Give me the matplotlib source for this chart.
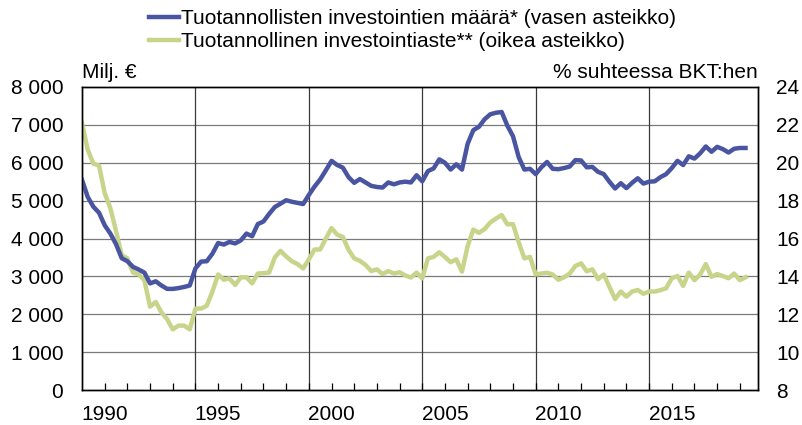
import matplotlib
matplotlib.use("Agg")
import matplotlib.pyplot as plt
from matplotlib.ticker import FuncFormatter

plt.rcParams['font.family'] = ['Liberation Sans', 'DejaVu Sans']

# quarterly data 1989Q1 - 2018Q2
start_year = 1989
investment_meur = [
    5550, 5100, 4840, 4680, 4350, 4130, 3850, 3480, 3400, 3250,
    3180, 3100, 2815, 2870, 2760, 2670, 2670, 2690, 2720, 2760,
    3210, 3390, 3400, 3600, 3880, 3840, 3910, 3870, 3950, 4130,
    4060, 4380, 4450, 4650, 4830, 4920, 5010, 4970, 4940, 4910,
    5150, 5370, 5560, 5800, 6050, 5940, 5870, 5620, 5470, 5570,
    5480, 5390, 5360, 5345, 5480, 5430, 5480, 5500, 5480, 5670,
    5510, 5780, 5850, 6090, 6000, 5820, 5960, 5820, 6500, 6860,
    6950, 7150, 7280, 7320, 7340, 6980, 6700, 6150, 5820, 5840,
    5700, 5880, 6020, 5840, 5830, 5860, 5900, 6070, 6060, 5880,
    5890, 5760, 5700, 5500, 5320, 5460, 5330, 5470, 5590, 5450,
    5500, 5510, 5620, 5700, 5860, 6050, 5940, 6170, 6110, 6250,
    6430, 6290, 6420, 6360, 6270, 6370, 6390, 6390,
]
investment_rate = [
    22.1, 20.7, 19.95, 19.85, 18.4, 17.6, 16.4, 15.12, 14.95, 14.2,
    14.1, 13.8, 12.4, 12.65, 12.1, 11.75, 11.2, 11.4, 11.4, 11.2,
    12.3, 12.3, 12.45, 13.2, 14.1, 13.82, 13.89, 13.55, 13.95, 13.95,
    13.63, 14.15, 14.17, 14.2, 15.0, 15.35, 15.05, 14.8, 14.65, 14.42,
    14.9, 15.42, 15.42, 16.0, 16.55, 16.2, 16.08, 15.4, 14.95, 14.82,
    14.6, 14.28, 14.37, 14.12, 14.28, 14.15, 14.22, 14.05, 13.94, 14.2,
    13.9, 14.95, 15.03, 15.27, 15.02, 14.75, 14.9, 14.25, 15.6, 16.47,
    16.3, 16.5, 16.85, 17.05, 17.24, 16.75, 16.76, 15.8, 14.95, 15.03,
    14.1, 14.15, 14.19, 14.1, 13.82, 13.95, 14.15, 14.55, 14.69, 14.27,
    14.37, 13.85, 14.1, 13.45, 12.8, 13.2, 12.93, 13.2, 13.28, 13.08,
    13.2, 13.2, 13.27, 13.37, 13.9, 14.02, 13.5, 14.2, 13.8, 14.1,
    14.65, 13.98, 14.12, 14.02, 13.9, 14.15, 13.8, 13.95,
]
quarters = [start_year + 0.25 * i for i in range(len(investment_meur))]

label_years = [1990, 1995, 2000, 2005, 2010, 2015]
grid_years = [1994, 1999, 2004, 2009, 2014]
all_years = list(range(1990, 2019))
left_ticks = list(range(0, 8001, 1000))
right_ticks = list(range(8, 25, 2))

blue = '#4a55a2'
green = '#c8d48a'
fs = 15

fig = plt.figure(figsize=(8.03, 4.25), dpi=100)
ax = fig.add_axes([82 / 803, 1 - 390 / 425, 676 / 803, 303 / 425])
ax2 = ax.twinx()
ax.set_zorder(2)
ax2.set_zorder(1)
ax.patch.set_visible(False)

# grid on the lower axes so the lines sit on top of it
for yv in right_ticks[1:-1]:
    ax2.axhline(yv, color='#7a7a7a', lw=0.9, zorder=0)
for gx in grid_years:
    ax2.axvline(gx, color='#3a3a3a', lw=0.9, zorder=0)

l2, = ax2.plot(quarters, investment_rate, color=green, lw=3.2,
               solid_joinstyle='round',
               label='Tuotannollinen investointiaste** (oikea asteikko)')
l1, = ax.plot(quarters, investment_meur, color=blue, lw=3.2,
              solid_joinstyle='round',
              label='Tuotannollisten investointien määrä* (vasen asteikko)')

ax.set_xlim(1989, 2018.8)
ax.set_ylim(0, 8000)
ax2.set_ylim(8, 24)

ax.set_yticks(left_ticks)
ax.yaxis.set_major_formatter(FuncFormatter(lambda v, p: f'{int(v):,}'.replace(',', ' ')))
ax2.set_yticks(right_ticks)

ax.set_xticks(label_years)
ax.set_xticks(all_years, minor=True)
ax.tick_params(axis='x', which='both', direction='in', length=5, width=0.9,
               labelsize=fs, pad=11)
ax.tick_params(axis='y', length=0, labelsize=fs, pad=13.5)
ax2.tick_params(axis='y', length=0, labelsize=fs, pad=13)
ax2.tick_params(axis='x', which='both', length=0)

for a in (ax, ax2):
    for s in a.spines.values():
        s.set_linewidth(1.0)
        s.set_color('black')

ax.text(0, 1.031, 'Milj. €', transform=ax.transAxes, fontsize=fs,
        ha='left', va='baseline')
ax.text(1.0, 1.031, '% suhteessa BKT:hen', transform=ax.transAxes,
        fontsize=fs, ha='right', va='baseline')

fig.legend(handles=[l1, l2], loc='upper left',
           bbox_to_anchor=(145 / 803, 1 - 5 / 425), frameon=False,
           fontsize=fs, handlelength=1.45, handletextpad=0.1,
           labelspacing=0.18, borderaxespad=0, borderpad=0.2)

fig.savefig('out.png', dpi=100)
